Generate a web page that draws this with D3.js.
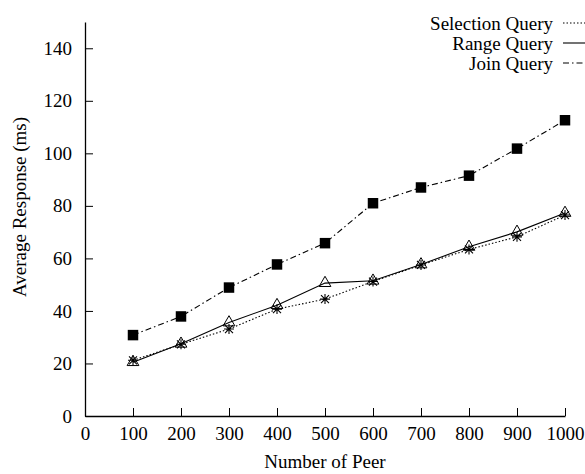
<!DOCTYPE html>
<html>
<head>
<meta charset="utf-8">
<script src="https://cdn.jsdelivr.net/npm/d3@7"></script>
<style>
  body { margin: 0; background: #fff; }
</style>
</head>
<body>
<div id="chart"></div>
<script>
// data
const peers = [100, 200, 300, 400, 500, 600, 700, 800, 900, 1000];
const selectionQuery = [21.2, 27.3, 33.1, 40.7, 44.5, 51.2, 57.5, 63.4, 68.2, 76.5];
const rangeQuery = [20.5, 27.5, 35.6, 42.2, 50.6, 51.5, 57.7, 64.4, 70.1, 77.3];
const joinQuery = [30.8, 37.9, 48.9, 57.7, 65.8, 81, 87, 91.5, 101.8, 112.6];
const xTicks = [0, 100, 200, 300, 400, 500, 600, 700, 800, 900, 1000];
const yTicks = [0, 20, 40, 60, 80, 100, 120, 140];

const width = 585, height = 474;
const margin = { top: 22, right: 20, bottom: 58, left: 85 };
const font = 'Liberation Serif';
const fs = 19;

const svg = d3.select('#chart').append('svg')
  .attr('width', width)
  .attr('height', height)
  .style('font-family', font);

const x = d3.scaleLinear()
  .domain([0, 1000])
  .range([margin.left, width - margin.right]);

const y = d3.scaleLinear()
  .domain([0, 150])
  .range([height - margin.bottom, margin.top]);

// axes, ticks point inward
const xAxis = svg.append('g')
  .attr('transform', `translate(0,${height - margin.bottom})`)
  .call(d3.axisBottom(x).tickValues(xTicks).tickFormat(d3.format('d'))
    .tickSizeInner(-8).tickSizeOuter(0).tickPadding(11));
const yAxis = svg.append('g')
  .attr('transform', `translate(${margin.left},0)`)
  .call(d3.axisLeft(y).tickValues(yTicks).tickFormat(d3.format('d'))
    .tickSizeInner(-8).tickSizeOuter(0).tickPadding(13));

[xAxis, yAxis].forEach(g => {
  g.attr('font-family', font).attr('font-size', fs);
  g.selectAll('text').style('font-family', font).attr('fill', '#000');
  g.selectAll('path.domain').attr('stroke', '#000').attr('stroke-width', 1.3);
  g.selectAll('line').attr('stroke', '#000').attr('stroke-width', 1);
});

// axis titles
svg.append('text')
  .attr('x', (margin.left + width - margin.right) / 2)
  .attr('y', height - 6)
  .attr('text-anchor', 'middle')
  .attr('font-size', fs)
  .style('font-family', font)
  .text('Number of Peer');

svg.append('text')
  .attr('transform', 'translate(26,207) rotate(-90)')
  .attr('text-anchor', 'middle')
  .attr('font-size', fs)
  .style('font-family', font)
  .text('Average Response (ms)');

const series = [
  { name: 'Selection Query', values: selectionQuery, dash: '1.5,2', marker: 'star' },
  { name: 'Range Query', values: rangeQuery, dash: null, marker: 'triangle' },
  { name: 'Join Query', values: joinQuery, dash: '6,3,1.5,3', marker: 'square' }
];

const line = d3.line()
  .x((d, i) => x(peers[i]))
  .y(d => y(d));

// draw join first so the others sit above
series.slice().reverse().forEach(s => {
  svg.append('path')
    .datum(s.values)
    .attr('fill', 'none')
    .attr('stroke', '#000')
    .attr('stroke-width', 1.1)
    .attr('stroke-dasharray', s.dash)
    .attr('d', line);

  const pts = svg.append('g').selectAll('path')
    .data(s.values)
    .join('path')
    .attr('transform', (d, i) => `translate(${x(peers[i])},${y(d)})`);

  if (s.marker === 'square') {
    pts.attr('d', d3.symbol(d3.symbolSquare, 110)).attr('fill', '#000');
  } else if (s.marker === 'triangle') {
    pts.attr('d', d3.symbol(d3.symbolTriangle, 60))
      .attr('fill', 'none').attr('stroke', '#000').attr('stroke-width', 1);
  } else {
    // asterisk: plus and cross together
    pts.attr('d', 'M-5,0H5M0,-5V5M-4,-4L4,4M-4,4L4,-4')
      .attr('fill', 'none').attr('stroke', '#000').attr('stroke-width', 1.1);
  }
});

// legend, top right
const legend = svg.append('g');
series.forEach((s, i) => {
  const ly = 23 + i * 20;
  legend.append('text')
    .attr('x', 553)
    .attr('y', ly)
    .attr('dy', '0.35em')
    .attr('text-anchor', 'end')
    .attr('font-size', fs)
    .style('font-family', font)
    .text(s.name);
  legend.append('line')
    .attr('x1', 563).attr('x2', 590)
    .attr('y1', ly).attr('y2', ly)
    .attr('stroke', '#000')
    .attr('stroke-width', 1.1)
    .attr('stroke-dasharray', s.dash);
});
</script>
</body>
</html>
